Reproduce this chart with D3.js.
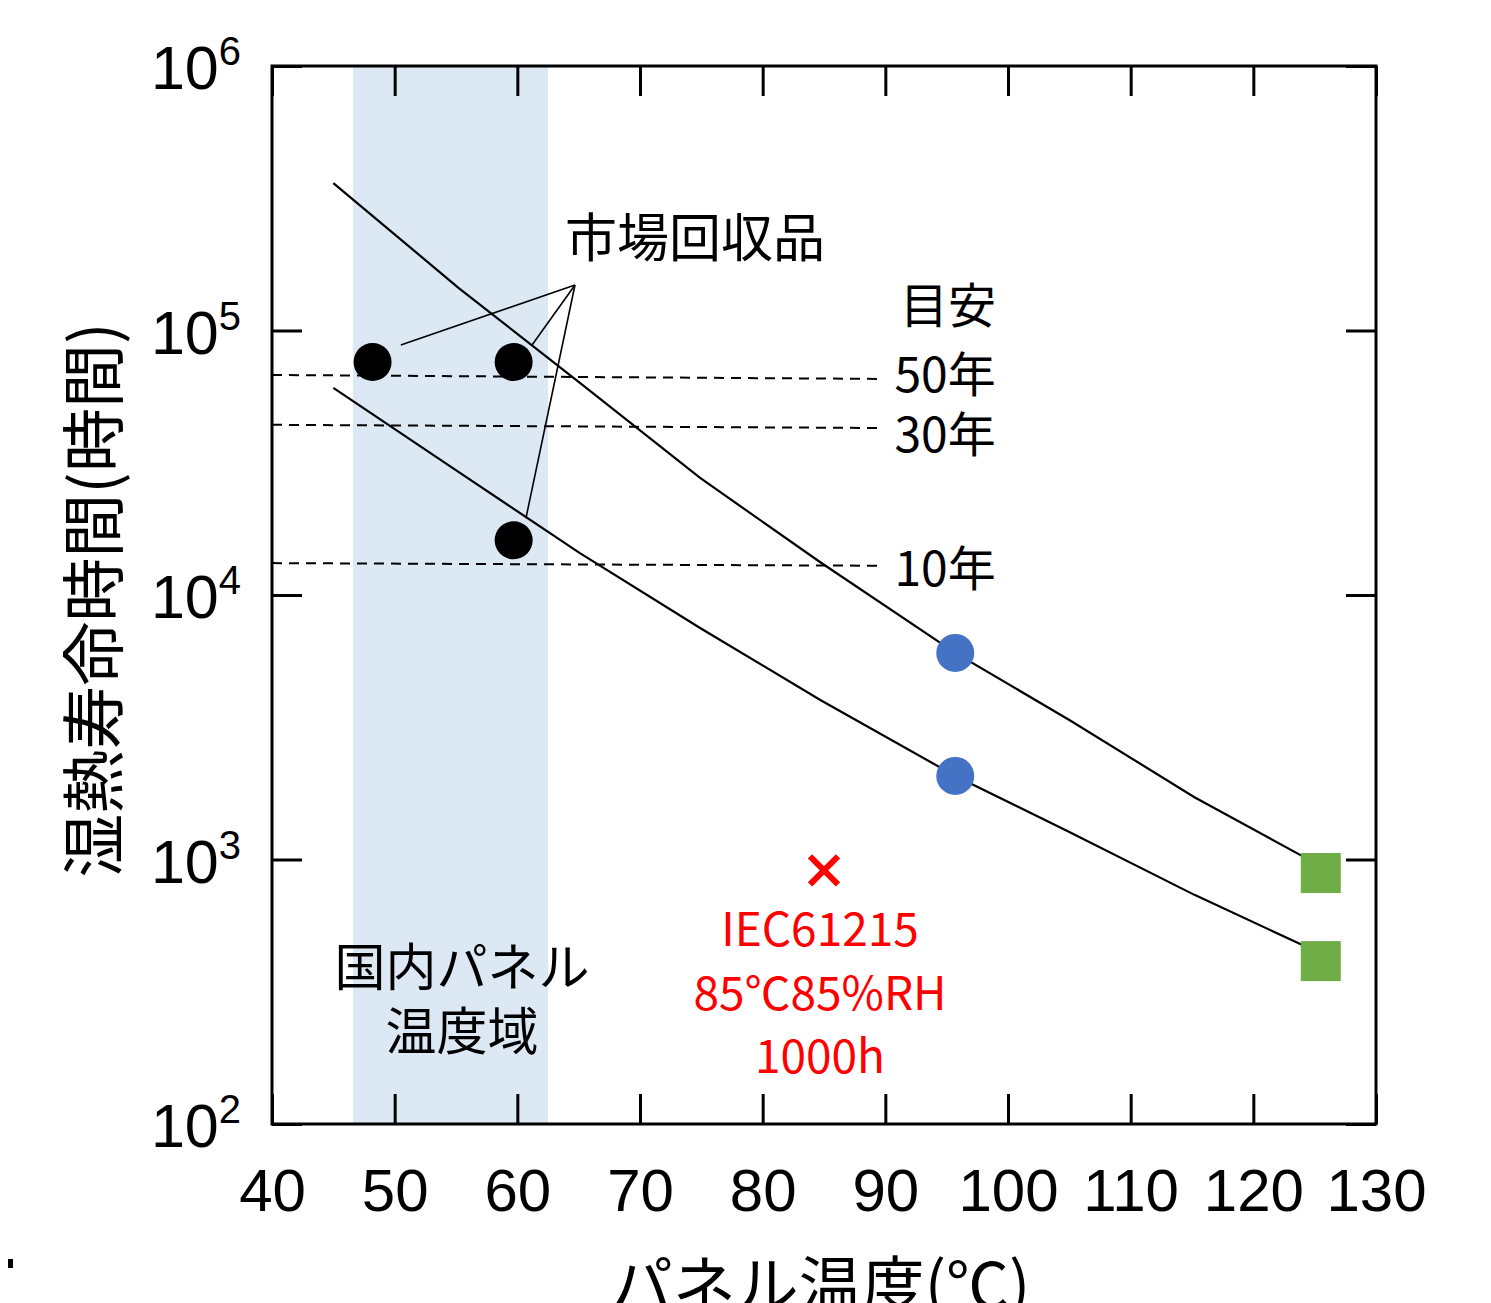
<!DOCTYPE html>
<html>
<head>
<meta charset="utf-8">
<script src="https://cdn.jsdelivr.net/npm/d3@7"></script>
<style>
  html, body { margin: 0; padding: 0; background: #fff; }
  svg { display: block; }
  .tick text { font-family: "Liberation Sans", Arial, sans-serif; }
  .jp { font-family: "Noto Sans CJK JP", sans-serif; }
</style>
</head>
<body>
<svg id="chart" width="1491" height="1303"></svg>
<script>
// Panel temperature (°C) ticks and damp-heat lifetime decades
const xTicks = [40, 50, 60, 70, 80, 90, 100, 110, 120, 130];
const yExponents = [2, 3, 4, 5, 6];

// Domestic panel temperature range (°C)
const bandRange = [46.6, 62.5];

// Upper and lower lifetime curves: [temperature, hours]
const upperCurve = [[45.0, 361000], [55.2, 145000], [65.1, 63400], [74.9, 27700],
                    [84.7, 13300], [95.7, 6040], [105.0, 3370], [115.2, 1720], [124.0, 1030]];
const lowerCurve = [[45.0, 60700], [55.2, 29200], [65.1, 14400], [74.9, 7500],
                    [84.7, 4010], [95.7, 2070], [105.0, 1270], [115.2, 735], [124.0, 475]];

// Field-returned modules
const fieldPoints = [[48.2, 76000], [59.7, 76000], [59.7, 16100]];
// Accelerated test results
const bluePoints = [[95.7, 6040], [95.7, 2070]];
const greenPoints = [[125.5, 889], [125.5, 413]];
// IEC61215 damp-heat condition
const iecPoint = [85.0, 910];

// Guide lines for service years: label, [x0, h0], [x1, h1], label baseline
const guideLines = [
  { label: "50年", from: [40, 67900], to: [89.6, 65600], labelY: 392 },
  { label: "30年", from: [40, 44000], to: [89.6, 42800], labelY: 452 },
  { label: "10年", from: [40, 13200], to: [89.6, 12900], labelY: 586 }
];

// Leader lines from the 市場回収品 label to the field points
const leaderOrigin = [64.7, 148600];
const leaderEnds = [[50.5, 88100], [61.2, 88100], [60.7, 19500]];

const margin = { left: 272, top: 66, right: 115, bottom: 179 };
const W = 1491, H = 1303;
const width = W - margin.left - margin.right;   // 1104
const height = H - margin.top - margin.bottom;  // 1058

const svg = d3.select("#chart");
const g = svg.append("g").attr("transform", `translate(${margin.left},${margin.top})`);

const x = d3.scaleLinear().domain([40, 130]).range([0, width]);
const y = d3.scaleLog().domain([100, 1e6]).range([height, 0]);

// Temperature band
g.append("rect")
  .attr("x", x(bandRange[0])).attr("y", 0)
  .attr("width", x(bandRange[1]) - x(bandRange[0])).attr("height", height)
  .attr("fill", "#dde8f5");

// Dashed guide lines
g.selectAll(".guide").data(guideLines).join("line")
  .attr("class", "guide")
  .attr("x1", d => x(d.from[0])).attr("y1", d => y(d.from[1]))
  .attr("x2", d => x(d.to[0])).attr("y2", d => y(d.to[1]))
  .attr("stroke", "#000").attr("stroke-width", 2)
  .attr("stroke-dasharray", "10,7");

// Lifetime curves
const line = d3.line().x(d => x(d[0])).y(d => y(d[1]));
[upperCurve, lowerCurve].forEach(c => {
  g.append("path").attr("d", line(c))
    .attr("fill", "none").attr("stroke", "#000").attr("stroke-width", 2.2);
});

// Leader lines
g.selectAll(".leader").data(leaderEnds).join("line")
  .attr("class", "leader")
  .attr("x1", x(leaderOrigin[0])).attr("y1", y(leaderOrigin[1]))
  .attr("x2", d => x(d[0])).attr("y2", d => y(d[1]))
  .attr("stroke", "#000").attr("stroke-width", 1.6);

// Markers
g.selectAll(".field").data(fieldPoints).join("circle")
  .attr("cx", d => x(d[0])).attr("cy", d => y(d[1])).attr("r", 19)
  .attr("fill", "#000");
g.selectAll(".blue").data(bluePoints).join("circle")
  .attr("cx", d => x(d[0])).attr("cy", d => y(d[1])).attr("r", 19)
  .attr("fill", "#4472c4");
g.selectAll(".green").data(greenPoints).join("rect")
  .attr("x", d => x(d[0]) - 20).attr("y", d => y(d[1]) - 20)
  .attr("width", 40).attr("height", 40)
  .attr("fill", "#70ad47");

// IEC cross mark
const cx = x(iecPoint[0]), cy = y(iecPoint[1]);
g.append("path")
  .attr("d", `M${cx - 14},${cy - 14}L${cx + 14},${cy + 14}M${cx - 14},${cy + 14}L${cx + 14},${cy - 14}`)
  .attr("stroke", "#ff0000").attr("stroke-width", 6);

// Axes with inward ticks
const tickLen = 30;
g.append("g").attr("transform", `translate(0,${height})`)
  .call(d3.axisBottom(x).tickValues(xTicks).tickSizeInner(-tickLen).tickSizeOuter(0).tickPadding(44))
  .call(a => a.select(".domain").remove())
  .call(a => a.selectAll("line").attr("stroke-width", 3))
  .call(a => a.selectAll("text").attr("font-size", 60).attr("fill", "#000").attr("dy", "0.71em"));
g.append("g")
  .call(d3.axisTop(x).tickValues(xTicks).tickSizeInner(-tickLen).tickSizeOuter(0).tickFormat(""))
  .call(a => a.select(".domain").remove())
  .call(a => a.selectAll("line").attr("stroke-width", 3));
const yTickVals = yExponents.map(e => Math.pow(10, e));
g.append("g")
  .call(d3.axisLeft(y).tickValues(yTickVals).tickSizeInner(-tickLen).tickSizeOuter(0).tickFormat(""))
  .call(a => a.select(".domain").remove())
  .call(a => a.selectAll("line").attr("stroke-width", 3));
g.append("g").attr("transform", `translate(${width},0)`)
  .call(d3.axisRight(y).tickValues(yTickVals).tickSizeInner(-tickLen).tickSizeOuter(0).tickFormat(""))
  .call(a => a.select(".domain").remove())
  .call(a => a.selectAll("line").attr("stroke-width", 3));

// Frame
g.append("rect").attr("width", width).attr("height", height)
  .attr("fill", "none").attr("stroke", "#000").attr("stroke-width", 3);

// Y tick labels as powers of ten
const yl = g.selectAll(".ylab").data(yExponents).join("text")
  .attr("class", "ylab")
  .attr("x", -31).attr("y", d => y(Math.pow(10, d)) + 23)
  .attr("text-anchor", "end")
  .attr("font-family", "Liberation Sans, Arial, sans-serif")
  .attr("font-size", 61).attr("fill", "#000");
yl.append("tspan").text("10");
yl.append("tspan").attr("dy", -24).attr("font-size", 40).text(d => d);

// Axis titles
svg.append("text").attr("class", "jp")
  .attr("x", 820).attr("y", 1308).attr("text-anchor", "middle")
  .attr("font-size", 63).attr("fill", "#000").text("パネル温度(℃)");
svg.append("text").attr("class", "jp")
  .attr("transform", "translate(117,600) rotate(-90)")
  .attr("text-anchor", "middle")
  .attr("font-size", 64).attr("fill", "#000").text("湿熱寿命時間(時間)");

// Annotations
const jpText = (tx, ty, s, anchor, color, size) =>
  g.append("text").attr("class", "jp")
    .attr("x", tx).attr("y", ty).attr("text-anchor", anchor)
    .attr("font-size", size).attr("fill", color).text(s);

jpText(293, 257 - margin.top, "市場回収品", "start", "#000", 52);
jpText(676, 323 - margin.top, "目安", "middle", "#000", 48);
guideLines.forEach(d => {
  jpText(x(d.to[0]) + 14, d.labelY - margin.top, d.label, "start", "#000", 48);
});
jpText(190, 986 - margin.top, "国内パネル", "middle", "#000", 51);
jpText(190, 1050 - margin.top, "温度域", "middle", "#000", 51);
jpText(cx - 4, 946 - margin.top, "IEC61215", "middle", "#ff0000", 46);
jpText(cx - 4, 1010 - margin.top, "85℃85%RH", "middle", "#ff0000", 46);
jpText(cx - 4, 1073 - margin.top, "1000h", "middle", "#ff0000", 46);

// Small mark at lower left corner
svg.append("rect").attr("x", 8).attr("y", 1259).attr("width", 5).attr("height", 9).attr("fill", "#000");
</script>
</body>
</html>
